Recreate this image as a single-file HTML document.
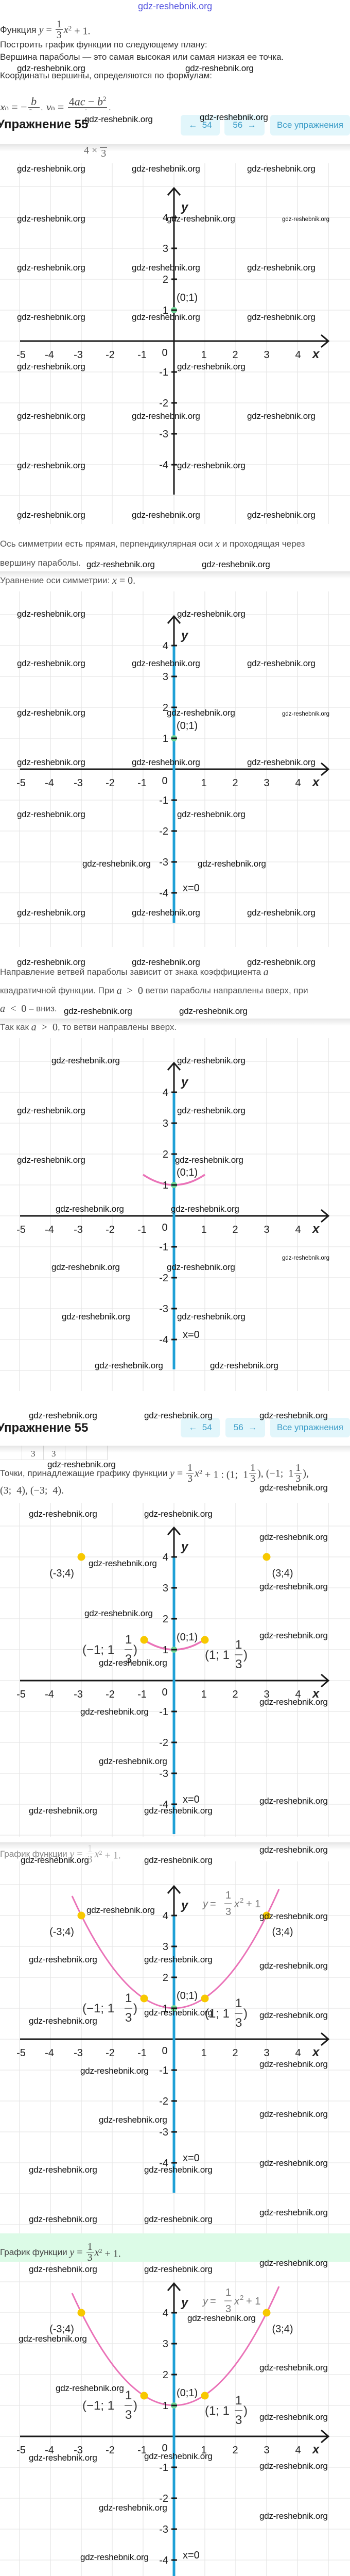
<!DOCTYPE html>
<html><head><meta charset="utf-8">
<style>
html,body{margin:0;padding:0}
body{width:680px;height:5054px;position:relative;overflow:hidden;background:#fff;font-family:"Liberation Sans",sans-serif}
.a{position:absolute;white-space:nowrap}
.w{position:absolute;white-space:nowrap;font:17px/20px "Liberation Sans",sans-serif;color:#111;z-index:20;letter-spacing:-0.2px}
.ws{position:absolute;white-space:nowrap;font:11.5px/14px "Liberation Sans",sans-serif;color:#111;z-index:20}
.t{position:absolute;left:0;white-space:nowrap;font-size:17px;line-height:22px;color:#555;display:flex;align-items:center;z-index:5}
.t1{color:#333}
.m{font-family:"Liberation Serif",serif;font-size:20px;color:#444}
.i{font-style:italic}
.fr{display:inline-flex;flex-direction:column;vertical-align:middle;text-align:center;line-height:1.0;margin:0 2px}
.fr>span:first-child{border-bottom:1px solid #444;padding:0 2px}
.g{position:absolute;left:0;z-index:1}
.hdr{position:absolute;left:0;width:680px;background:#fff;z-index:10}
.sh{position:absolute;left:0;width:680px;height:14px;background:linear-gradient(rgba(0,0,0,0.10),rgba(0,0,0,0));z-index:10}
.btn{position:absolute;background:#e2f6fb;border-radius:6px;color:#3a9cc7;font:17px "Liberation Sans",sans-serif;display:flex;align-items:center;justify-content:center;z-index:11}
.h{position:absolute;left:-6px;font:bold 24px "Liberation Sans",sans-serif;color:#1a1a1a;z-index:11}
svg text{font-family:"Liberation Sans",sans-serif}
</style></head><body>

<div class="a" style="left:268px;top:2px;font-size:18px;color:#5656e0;z-index:20">gdz-reshebnik.org</div>

<div class="t t1" style="top:37px;font-size:18px">Функция&nbsp;<span class="m i">y</span><span class="m">&nbsp;=&nbsp;</span><span class="fr m"><span>1</span><span>3</span></span><span class="m i">x</span><span class="m"><sup style="font-size:13px">2</sup> + 1.</span></div>
<div class="t t1" style="top:76px">Построить график функции по следующему плану:</div>
<div class="t t1" style="top:100px">Вершина параболы — это самая высокая или самая низкая ее точка.</div>
<div class="t t1" style="top:136px">Координаты вершины, определяются по формулам:</div>
<div class="t t1" style="top:185px"><span class="m i" style="font-size:22px">x</span><span class="m" style="font-size:14px;margin-top:10px">0</span><span class="m" style="font-size:22px">&nbsp;= −</span><span class="fr m" style="font-size:22px"><span class="i">b</span><span>2<i>a</i></span></span><span class="m" style="font-size:22px">,&nbsp;</span><span class="m i" style="font-size:22px">y</span><span class="m" style="font-size:14px;margin-top:10px">0</span><span class="m" style="font-size:22px">&nbsp;=&nbsp;</span><span class="fr m" style="font-size:22px"><span>4<i>ac</i> − <i>b</i><sup style="font-size:13px">2</sup></span><span>4<i>a</i></span></span><span class="m" style="font-size:22px">.</span></div>

<div class="hdr" style="top:214px;height:66px"></div>
<div class="sh" style="top:280px"></div>
<div class="h" style="top:228px">Упражнение 55</div>
<div class="btn" style="left:351px;top:223px;width:76px;height:40px">←&nbsp;&nbsp;54</div>
<div class="btn" style="left:436px;top:223px;width:78px;height:40px">56&nbsp;&nbsp;→</div>
<div class="btn" style="left:525px;top:223px;width:155px;height:40px">Все упражнения</div>
<div class="a m" style="left:163px;top:281px;z-index:5;font-size:20px;color:#666">4 × <span style="display:inline-block;border-top:1px solid #666;padding:0 2px;vertical-align:-6px">3</span></div>

<svg class="g" style="top:317px" width="680" height="700" viewBox="0 0 680 700">
<path d="M38 0V700M98 0V700M158 0V700M218 0V700M278 0V700M338 0V700M398 0V700M458 0V700M518 0V700M578 0V700M638 0V700M0 45H680M0 105H680M0 165H680M0 225H680M0 285H680M0 345H680M0 405H680M0 465H680M0 525H680M0 585H680M0 645H680" stroke="#e6e6e6" stroke-width="1.3"/>
<path d="M39 345H636M338 643V50" stroke="#1a1a1a" stroke-width="3"/>
<path d="M624 333L638 345L624 357M326 62L338 48L350 62" fill="none" stroke="#1a1a1a" stroke-width="3"/>
<path d="M333 105H344M333 165H344M333 225H344M333 285H344M333 405H344M333 465H344M333 525H344M333 585H344" stroke="#1a1a1a" stroke-width="3"/>
<circle cx="338" cy="285" r="6" fill="#6cd494"/><path d="M333 285H344" stroke="#1a1a1a" stroke-width="3"/>
<g font-size="20" fill="#222" text-anchor="end"><text x="327" y="112">4</text><text x="327" y="172">3</text><text x="327" y="232">2</text><text x="327" y="292">1</text><text x="327" y="412">-1</text><text x="327" y="472">-2</text><text x="327" y="532">-3</text><text x="327" y="592">-4</text></g>
<g font-size="20" fill="#222" text-anchor="middle"><text x="41" y="378">-5</text><text x="96" y="378">-4</text><text x="152" y="378">-3</text><text x="214" y="378">-2</text><text x="276" y="378">-1</text><text x="320" y="374">0</text><text x="396" y="378">1</text><text x="457" y="378">2</text><text x="518" y="378">3</text><text x="579" y="378">4</text></g>
<text x="607" y="378" font-size="24" font-weight="bold" font-style="italic" fill="#222">x</text>
<text x="352" y="93" font-size="24" font-weight="bold" font-style="italic" fill="#222">y</text>
<text x="343" y="267" font-size="20" fill="#222">(0;1)</text>
</svg>

<div class="t" style="top:1045px">Ось симметрии есть прямая, перпендикулярная оси&nbsp;<span class="m i">x</span>&nbsp;и проходящая через</div>
<div class="t" style="top:1082px">вершину параболы.</div>
<div class="sh" style="top:1109px"></div>
<div class="t" style="top:1116px">Уравнение оси симметрии:&nbsp;<span class="m i">x</span><span class="m">&nbsp;=&nbsp;0.</span></div>

<svg class="g" style="top:1148px" width="680" height="690" viewBox="0 0 680 690">
<path d="M38 0V690M98 0V690M158 0V690M218 0V690M278 0V690M338 0V690M398 0V690M458 0V690M518 0V690M578 0V690M638 0V690M0 45H680M0 105H680M0 165H680M0 225H680M0 285H680M0 345H680M0 405H680M0 465H680M0 525H680M0 585H680M0 645H680" stroke="#e6e6e6" stroke-width="1.3"/>
<path d="M39 345H636M338 643V50" stroke="#1a1a1a" stroke-width="3"/>
<path d="M624 333L638 345L624 357M326 62L338 48L350 62" fill="none" stroke="#1a1a1a" stroke-width="3"/>
<path d="M338 105V643" stroke="#1ea0d6" stroke-width="5"/>
<circle cx="338" cy="285" r="6" fill="#6cd494"/>
<path d="M333 105H344M333 165H344M333 225H344M333 285H344M333 405H344M333 465H344M333 525H344M333 585H344" stroke="#1a1a1a" stroke-width="3"/>
<g font-size="20" fill="#222" text-anchor="end"><text x="327" y="112">4</text><text x="327" y="172">3</text><text x="327" y="232">2</text><text x="327" y="292">1</text><text x="327" y="412">-1</text><text x="327" y="472">-2</text><text x="327" y="532">-3</text><text x="327" y="592">-4</text></g>
<g font-size="20" fill="#222" text-anchor="middle"><text x="41" y="378">-5</text><text x="96" y="378">-4</text><text x="152" y="378">-3</text><text x="214" y="378">-2</text><text x="276" y="378">-1</text><text x="320" y="374">0</text><text x="396" y="378">1</text><text x="457" y="378">2</text><text x="518" y="378">3</text><text x="579" y="378">4</text></g>
<text x="607" y="378" font-size="24" font-weight="bold" font-style="italic" fill="#222">x</text>
<text x="352" y="93" font-size="24" font-weight="bold" font-style="italic" fill="#222">y</text>
<text x="343" y="267" font-size="20" fill="#222">(0;1)</text>
<text x="355" y="582" font-size="20" fill="#222">x=0</text>
</svg>

<div class="t" style="top:1876px">Направление ветвей параболы зависит от знака коэффициента&nbsp;<span class="m i">a</span></div>
<div class="t" style="top:1912px">квадратичной функции. При&nbsp;<span class="m i">a</span><span class="m">&nbsp;&nbsp;&gt;&nbsp;&nbsp;0</span>&nbsp;ветви параболы направлены вверх, при</div>
<div class="t" style="top:1947px"><span class="m i">a</span><span class="m">&nbsp;&nbsp;&lt;&nbsp;&nbsp;0</span>&nbsp;– вниз.</div>
<div class="sh" style="top:1977px"></div>
<div class="t" style="top:1983px">Так как&nbsp;<span class="m i">a</span><span class="m">&nbsp;&nbsp;&gt;&nbsp;&nbsp;0</span>, то ветви направлены вверх.</div>

<svg class="g" style="top:2015px" width="680" height="685" viewBox="0 0 680 685">
<path d="M38 0V685M98 0V685M158 0V685M218 0V685M278 0V685M338 0V685M398 0V685M458 0V685M518 0V685M578 0V685M638 0V685M0 45H680M0 105H680M0 165H680M0 225H680M0 285H680M0 345H680M0 405H680M0 465H680M0 525H680M0 585H680M0 645H680" stroke="#e6e6e6" stroke-width="1.3"/>
<path d="M39 345H636M338 643V50" stroke="#1a1a1a" stroke-width="3"/>
<path d="M624 333L638 345L624 357M326 62L338 48L350 62" fill="none" stroke="#1a1a1a" stroke-width="3"/>
<path d="M338 105V643" stroke="#1ea0d6" stroke-width="5"/>
<path d="M278 265Q338 305 398 265" fill="none" stroke="#ea73b8" stroke-width="3.5"/>
<circle cx="338" cy="285" r="6" fill="#6cd494"/>
<path d="M333 105H344M333 165H344M333 225H344M333 285H344M333 405H344M333 465H344M333 525H344M333 585H344" stroke="#1a1a1a" stroke-width="3"/>
<g font-size="20" fill="#222" text-anchor="end"><text x="327" y="112">4</text><text x="327" y="172">3</text><text x="327" y="232">2</text><text x="327" y="292">1</text><text x="327" y="412">-1</text><text x="327" y="472">-2</text><text x="327" y="532">-3</text><text x="327" y="592">-4</text></g>
<g font-size="20" fill="#222" text-anchor="middle"><text x="41" y="378">-5</text><text x="96" y="378">-4</text><text x="152" y="378">-3</text><text x="214" y="378">-2</text><text x="276" y="378">-1</text><text x="320" y="374">0</text><text x="396" y="378">1</text><text x="457" y="378">2</text><text x="518" y="378">3</text><text x="579" y="378">4</text></g>
<text x="607" y="378" font-size="24" font-weight="bold" font-style="italic" fill="#222">x</text>
<text x="352" y="93" font-size="24" font-weight="bold" font-style="italic" fill="#222">y</text>
<text x="343" y="267" font-size="20" fill="#222">(0;1)</text>
<text x="355" y="582" font-size="20" fill="#222">x=0</text>
</svg>

<div class="hdr" style="top:2733px;height:73px"></div>
<div class="sh" style="top:2806px"></div>
<div class="h" style="top:2758px">Упражнение 55</div>
<div class="btn" style="left:351px;top:2752px;width:76px;height:38px">←&nbsp;&nbsp;54</div>
<div class="btn" style="left:438px;top:2752px;width:77px;height:38px">56&nbsp;&nbsp;→</div>
<div class="btn" style="left:525px;top:2752px;width:155px;height:38px">Все упражнения</div>
<div class="a" style="left:0;top:2806px;width:208px;height:27px;border-bottom:1px solid #ddd;border-right:1px solid #ddd;z-index:4"></div>
<div class="a" style="left:42px;top:2806px;width:41px;height:27px;border-left:1px solid #ddd;border-right:1px solid #ddd;z-index:4"></div>
<div class="a" style="left:126px;top:2806px;width:41px;height:27px;border-left:1px solid #ddd;border-right:1px solid #ddd;z-index:4"></div>
<div class="a m" style="left:60px;top:2812px;font-size:17px;z-index:4">3</div>
<div class="a m" style="left:100px;top:2812px;font-size:17px;z-index:4">3</div>

<div class="t" style="top:2839px;color:#444">Точки, принадлежащие графику функции&nbsp;<span class="m i">y</span><span class="m">&nbsp;=&nbsp;</span><span class="fr m"><span>1</span><span>3</span></span><span class="m i">x</span><span class="m"><sup style="font-size:12px">2</sup> + 1 : (1;&nbsp; 1</span><span class="fr m"><span>1</span><span>3</span></span><span class="m">), (−1;&nbsp; 1</span><span class="fr m"><span>1</span><span>3</span></span><span class="m">),</span></div>
<div class="t" style="top:2882px"><span class="m">(3;&nbsp; 4), (−3;&nbsp; 4).</span></div>

<svg class="g" style="top:2917px" width="680" height="648" viewBox="0 0 680 648">
<path d="M38 0V648M98 0V648M158 0V648M218 0V648M278 0V648M338 0V648M398 0V648M458 0V648M518 0V648M578 0V648M638 0V648M0 45H680M0 105H680M0 165H680M0 225H680M0 285H680M0 345H680M0 405H680M0 465H680M0 525H680M0 585H680M0 645H680" stroke="#e6e6e6" stroke-width="1.3"/>
<path d="M39 345H636M338 643V50" stroke="#1a1a1a" stroke-width="3"/>
<path d="M624 333L638 345L624 357M326 62L338 48L350 62" fill="none" stroke="#1a1a1a" stroke-width="3"/>
<path d="M338 105V643" stroke="#1ea0d6" stroke-width="5"/>
<path d="M278 265Q338 305 398 265" fill="none" stroke="#ea73b8" stroke-width="3.5"/>
<circle cx="338" cy="285" r="6" fill="#6cd494"/>
<g fill="#f7c800"><circle cx="158" cy="105" r="7.5"/><circle cx="518" cy="105" r="7.5"/><circle cx="280" cy="266" r="7.5"/><circle cx="398" cy="266" r="7.5"/></g>
<path d="M333 105H344M333 165H344M333 225H344M333 285H344M333 405H344M333 465H344M333 525H344M333 585H344" stroke="#1a1a1a" stroke-width="3"/>
<g font-size="20" fill="#222" text-anchor="end"><text x="327" y="112">4</text><text x="327" y="172">3</text><text x="327" y="232">2</text><text x="327" y="292">1</text><text x="327" y="412">-1</text><text x="327" y="472">-2</text><text x="327" y="532">-3</text><text x="327" y="592">-4</text></g>
<g font-size="20" fill="#222" text-anchor="middle"><text x="41" y="378">-5</text><text x="96" y="378">-4</text><text x="152" y="378">-3</text><text x="214" y="378">-2</text><text x="276" y="378">-1</text><text x="320" y="374">0</text><text x="396" y="378">1</text><text x="457" y="378">2</text><text x="518" y="378">3</text><text x="579" y="378">4</text></g>
<text x="607" y="378" font-size="24" font-weight="bold" font-style="italic" fill="#222">x</text>
<text x="352" y="93" font-size="24" font-weight="bold" font-style="italic" fill="#222">y</text>
<text x="343" y="267" font-size="20" fill="#222">(0;1)</text>
<text x="355" y="582" font-size="20" fill="#222">x=0</text>
<g font-size="20" fill="#222" text-anchor="middle"><text x="120" y="143">(-3;4)</text><text x="549" y="143">(3;4)</text></g>
<g font-family="Liberation Serif,serif" font-size="24" fill="#333"><text x="160" y="293">(−1; 1</text><text x="243" y="273">1</text><path d="M242 285H257" stroke="#333" stroke-width="1.2"/><text x="243" y="311">3</text><text x="259" y="293">)</text>
<text x="398" y="303">(1; 1</text><text x="457" y="283">1</text><path d="M456 295H471" stroke="#333" stroke-width="1.2"/><text x="457" y="321">3</text><text x="473" y="303">)</text></g>
</svg>

<div class="sh" style="top:3576px"></div>
<div class="t" style="top:3578px;color:#888">График функции&nbsp;<span class="m i" style="color:#999">y</span><span class="m" style="color:#999">&nbsp;=&nbsp;</span><span class="fr m" style="color:#999"><span style="border-color:#bbb;color:#ddd">1</span><span>3</span></span><span class="m i" style="color:#999">x</span><span class="m" style="color:#999"><sup style="font-size:12px">2</sup> + 1.</span></div>

<svg class="g" style="top:3613px" width="680" height="722" viewBox="0 0 680 722">
<path d="M38 0V722M98 0V722M158 0V722M218 0V722M278 0V722M338 0V722M398 0V722M458 0V722M518 0V722M578 0V722M638 0V722M0 45H680M0 105H680M0 165H680M0 225H680M0 285H680M0 345H680M0 405H680M0 465H680M0 525H680M0 585H680M0 645H680M0 705H680" stroke="#e6e6e6" stroke-width="1.3"/>
<path d="M39 345H636M338 643V50" stroke="#1a1a1a" stroke-width="3"/>
<path d="M624 333L638 345L624 357M326 62L338 48L350 62" fill="none" stroke="#1a1a1a" stroke-width="3"/>
<path d="M338 105V643" stroke="#1ea0d6" stroke-width="5"/>
<path d="M140 67Q341 509 542 54" fill="none" stroke="#ea73b8" stroke-width="3"/>
<circle cx="338" cy="285" r="6" fill="#6cd494"/>
<g fill="#f7c800"><circle cx="158" cy="105" r="7.5"/><circle cx="518" cy="105" r="7.5"/><circle cx="280" cy="266" r="7.5"/><circle cx="398" cy="266" r="7.5"/></g>
<path d="M333 105H344M333 165H344M333 225H344M333 285H344M333 405H344M333 465H344M333 525H344M333 585H344" stroke="#1a1a1a" stroke-width="3"/>
<g font-size="20" fill="#222" text-anchor="end"><text x="327" y="112">4</text><text x="327" y="172">3</text><text x="327" y="232">2</text><text x="327" y="292">1</text><text x="327" y="412">-1</text><text x="327" y="472">-2</text><text x="327" y="532">-3</text><text x="327" y="592">-4</text></g>
<g font-size="20" fill="#222" text-anchor="middle"><text x="41" y="378">-5</text><text x="96" y="378">-4</text><text x="152" y="378">-3</text><text x="214" y="378">-2</text><text x="276" y="378">-1</text><text x="320" y="374">0</text><text x="396" y="378">1</text><text x="457" y="378">2</text><text x="518" y="378">3</text><text x="579" y="378">4</text></g>
<text x="607" y="378" font-size="24" font-weight="bold" font-style="italic" fill="#222">x</text>
<text x="352" y="93" font-size="24" font-weight="bold" font-style="italic" fill="#222">y</text>
<text x="343" y="267" font-size="20" fill="#222">(0;1)</text>
<text x="355" y="582" font-size="20" fill="#222">x=0</text>
<g font-size="20" fill="#222" text-anchor="middle"><text x="120" y="143">(-3;4)</text><text x="549" y="143">(3;4)</text></g>
<g font-family="Liberation Serif,serif" font-size="24" fill="#333"><text x="160" y="293">(−1; 1</text><text x="243" y="273">1</text><path d="M242 285H257" stroke="#333" stroke-width="1.2"/><text x="243" y="311">3</text><text x="259" y="293">)</text>
<text x="398" y="303">(1; 1</text><text x="457" y="283">1</text><path d="M456 295H471" stroke="#333" stroke-width="1.2"/><text x="457" y="321">3</text><text x="473" y="303">)</text></g>
<g font-family="Liberation Serif,serif" font-size="20" fill="#777"><text x="394" y="89" font-style="italic">y</text><text x="408" y="89">=</text><text x="438" y="72">1</text><path d="M436 82H450" stroke="#777" stroke-width="1.2"/><text x="438" y="104">3</text><text x="455" y="89" font-style="italic">x</text><text x="466" y="80" font-size="13">2</text><text x="478" y="89">+ 1</text></g>
</svg>

<div class="a" style="left:0;top:4335px;width:680px;height:55px;background:#dcfbe7;z-index:6"></div>
<div class="t" style="top:4351px;z-index:7;color:#444">График функции&nbsp;<span class="m i">y</span><span class="m">&nbsp;=&nbsp;</span><span class="fr m"><span>1</span><span>3</span></span><span class="m i">x</span><span class="m"><sup style="font-size:12px">2</sup> + 1.</span></div>

<svg class="g" style="top:4384px" width="680" height="668" viewBox="0 0 680 668">
<path d="M38 0V668M98 0V668M158 0V668M218 0V668M278 0V668M338 0V668M398 0V668M458 0V668M518 0V668M578 0V668M638 0V668M0 45H680M0 105H680M0 165H680M0 225H680M0 285H680M0 345H680M0 405H680M0 465H680M0 525H680M0 585H680M0 645H680" stroke="#e6e6e6" stroke-width="1.3"/>
<path d="M39 345H636M338 643V50" stroke="#1a1a1a" stroke-width="3"/>
<path d="M624 333L638 345L624 357M326 62L338 48L350 62" fill="none" stroke="#1a1a1a" stroke-width="3"/>
<path d="M338 105V643" stroke="#1ea0d6" stroke-width="5"/>
<path d="M140 67Q341 509 542 54" fill="none" stroke="#ea73b8" stroke-width="3"/>
<circle cx="338" cy="285" r="6" fill="#6cd494"/>
<g fill="#f7c800"><circle cx="158" cy="105" r="7.5"/><circle cx="518" cy="105" r="7.5"/><circle cx="280" cy="266" r="7.5"/><circle cx="398" cy="266" r="7.5"/></g>
<path d="M333 105H344M333 165H344M333 225H344M333 285H344M333 405H344M333 465H344M333 525H344M333 585H344" stroke="#1a1a1a" stroke-width="3"/>
<g font-size="20" fill="#222" text-anchor="end"><text x="327" y="112">4</text><text x="327" y="172">3</text><text x="327" y="232">2</text><text x="327" y="292">1</text><text x="327" y="412">-1</text><text x="327" y="472">-2</text><text x="327" y="532">-3</text><text x="327" y="592">-4</text></g>
<g font-size="20" fill="#222" text-anchor="middle"><text x="41" y="378">-5</text><text x="96" y="378">-4</text><text x="152" y="378">-3</text><text x="214" y="378">-2</text><text x="276" y="378">-1</text><text x="320" y="374">0</text><text x="396" y="378">1</text><text x="457" y="378">2</text><text x="518" y="378">3</text><text x="579" y="378">4</text></g>
<text x="607" y="378" font-size="24" font-weight="bold" font-style="italic" fill="#222">x</text>
<text x="352" y="93" font-size="24" font-weight="bold" font-style="italic" fill="#222">y</text>
<text x="343" y="267" font-size="20" fill="#222">(0;1)</text>
<text x="355" y="582" font-size="20" fill="#222">x=0</text>
<g font-size="20" fill="#222" text-anchor="middle"><text x="120" y="143">(-3;4)</text><text x="549" y="143">(3;4)</text></g>
<g font-family="Liberation Serif,serif" font-size="24" fill="#333"><text x="160" y="293">(−1; 1</text><text x="243" y="273">1</text><path d="M242 285H257" stroke="#333" stroke-width="1.2"/><text x="243" y="311">3</text><text x="259" y="293">)</text>
<text x="398" y="303">(1; 1</text><text x="457" y="283">1</text><path d="M456 295H471" stroke="#333" stroke-width="1.2"/><text x="457" y="321">3</text><text x="473" y="303">)</text></g>
<g font-family="Liberation Serif,serif" font-size="20" fill="#777"><text x="394" y="89" font-style="italic">y</text><text x="408" y="89">=</text><text x="438" y="72">1</text><path d="M436 82H450" stroke="#777" stroke-width="1.2"/><text x="438" y="104">3</text><text x="455" y="89" font-style="italic">x</text><text x="466" y="80" font-size="13">2</text><text x="478" y="89">+ 1</text></g>
</svg>

<div class="w" style="left:33px;top:123px">gdz-reshebnik.org</div><div class="w" style="left:360px;top:123px">gdz-reshebnik.org</div>
<div class="w" style="left:164px;top:222px">gdz-reshebnik.org</div><div class="w" style="left:388px;top:218px">gdz-reshebnik.org</div>
<div class="w" style="left:33px;top:318px">gdz-reshebnik.org</div><div class="w" style="left:256px;top:318px">gdz-reshebnik.org</div><div class="w" style="left:480px;top:318px">gdz-reshebnik.org</div>
<div class="w" style="left:33px;top:415px">gdz-reshebnik.org</div><div class="w" style="left:324px;top:415px">gdz-reshebnik.org</div><div class="ws" style="left:548px;top:419px">gdz-reshebnik.org</div>
<div class="w" style="left:33px;top:510px">gdz-reshebnik.org</div><div class="w" style="left:256px;top:510px">gdz-reshebnik.org</div><div class="w" style="left:480px;top:510px">gdz-reshebnik.org</div>
<div class="w" style="left:33px;top:606px">gdz-reshebnik.org</div><div class="w" style="left:256px;top:606px">gdz-reshebnik.org</div><div class="w" style="left:480px;top:606px">gdz-reshebnik.org</div>
<div class="w" style="left:33px;top:702px">gdz-reshebnik.org</div><div class="w" style="left:344px;top:702px">gdz-reshebnik.org</div>
<div class="w" style="left:33px;top:798px">gdz-reshebnik.org</div><div class="w" style="left:256px;top:798px">gdz-reshebnik.org</div><div class="w" style="left:480px;top:798px">gdz-reshebnik.org</div>
<div class="w" style="left:33px;top:894px">gdz-reshebnik.org</div><div class="w" style="left:344px;top:894px">gdz-reshebnik.org</div>
<div class="w" style="left:33px;top:990px">gdz-reshebnik.org</div><div class="w" style="left:256px;top:990px">gdz-reshebnik.org</div><div class="w" style="left:480px;top:990px">gdz-reshebnik.org</div>
<div class="w" style="left:168px;top:1086px">gdz-reshebnik.org</div><div class="w" style="left:392px;top:1086px">gdz-reshebnik.org</div>
<div class="w" style="left:33px;top:1182px">gdz-reshebnik.org</div><div class="w" style="left:344px;top:1182px">gdz-reshebnik.org</div>
<div class="w" style="left:33px;top:1278px">gdz-reshebnik.org</div><div class="w" style="left:256px;top:1278px">gdz-reshebnik.org</div><div class="w" style="left:480px;top:1278px">gdz-reshebnik.org</div>
<div class="w" style="left:33px;top:1374px">gdz-reshebnik.org</div><div class="w" style="left:324px;top:1374px">gdz-reshebnik.org</div><div class="ws" style="left:548px;top:1379px">gdz-reshebnik.org</div>
<div class="w" style="left:33px;top:1470px">gdz-reshebnik.org</div><div class="w" style="left:256px;top:1470px">gdz-reshebnik.org</div><div class="w" style="left:480px;top:1470px">gdz-reshebnik.org</div>
<div class="w" style="left:33px;top:1571px">gdz-reshebnik.org</div><div class="w" style="left:344px;top:1571px">gdz-reshebnik.org</div>
<div class="w" style="left:160px;top:1667px">gdz-reshebnik.org</div><div class="w" style="left:384px;top:1667px">gdz-reshebnik.org</div>
<div class="w" style="left:33px;top:1762px">gdz-reshebnik.org</div><div class="w" style="left:256px;top:1762px">gdz-reshebnik.org</div><div class="w" style="left:480px;top:1762px">gdz-reshebnik.org</div>
<div class="w" style="left:33px;top:1858px">gdz-reshebnik.org</div><div class="w" style="left:256px;top:1858px">gdz-reshebnik.org</div><div class="w" style="left:480px;top:1858px">gdz-reshebnik.org</div>
<div class="w" style="left:124px;top:1953px">gdz-reshebnik.org</div><div class="w" style="left:348px;top:1953px">gdz-reshebnik.org</div>
<div class="w" style="left:100px;top:2049px">gdz-reshebnik.org</div><div class="w" style="left:344px;top:2049px">gdz-reshebnik.org</div>
<div class="w" style="left:33px;top:2146px">gdz-reshebnik.org</div><div class="w" style="left:344px;top:2146px">gdz-reshebnik.org</div>
<div class="w" style="left:33px;top:2242px">gdz-reshebnik.org</div><div class="w" style="left:340px;top:2242px">gdz-reshebnik.org</div>
<div class="w" style="left:108px;top:2337px">gdz-reshebnik.org</div><div class="w" style="left:332px;top:2337px">gdz-reshebnik.org</div>
<div class="ws" style="left:548px;top:2435px">gdz-reshebnik.org</div>
<div class="w" style="left:100px;top:2450px">gdz-reshebnik.org</div><div class="w" style="left:324px;top:2450px">gdz-reshebnik.org</div>
<div class="w" style="left:120px;top:2546px">gdz-reshebnik.org</div><div class="w" style="left:344px;top:2546px">gdz-reshebnik.org</div>
<div class="w" style="left:184px;top:2641px">gdz-reshebnik.org</div><div class="w" style="left:408px;top:2641px">gdz-reshebnik.org</div>
<div class="w" style="left:56px;top:2738px">gdz-reshebnik.org</div><div class="w" style="left:280px;top:2738px">gdz-reshebnik.org</div><div class="w" style="left:504px;top:2738px">gdz-reshebnik.org</div>
<div class="w" style="left:92px;top:2833px">gdz-reshebnik.org</div><div class="w" style="left:504px;top:2878px">gdz-reshebnik.org</div>
<div class="w" style="left:56px;top:2929px">gdz-reshebnik.org</div><div class="w" style="left:280px;top:2929px">gdz-reshebnik.org</div>
<div class="w" style="left:504px;top:2974px">gdz-reshebnik.org</div>
<div class="w" style="left:172px;top:3025px">gdz-reshebnik.org</div>
<div class="w" style="left:504px;top:3070px">gdz-reshebnik.org</div>
<div class="w" style="left:164px;top:3122px">gdz-reshebnik.org</div>
<div class="w" style="left:504px;top:3165px">gdz-reshebnik.org</div>
<div class="w" style="left:192px;top:3218px">gdz-reshebnik.org</div>
<div class="w" style="left:504px;top:3294px">gdz-reshebnik.org</div>
<div class="w" style="left:156px;top:3313px">gdz-reshebnik.org</div>
<div class="w" style="left:192px;top:3409px">gdz-reshebnik.org</div>
<div class="w" style="left:504px;top:3486px">gdz-reshebnik.org</div>
<div class="w" style="left:56px;top:3505px">gdz-reshebnik.org</div><div class="w" style="left:280px;top:3505px">gdz-reshebnik.org</div>
<div class="w" style="left:504px;top:3581px">gdz-reshebnik.org</div>
<div class="w" style="left:40px;top:3601px">gdz-reshebnik.org</div><div class="w" style="left:280px;top:3601px">gdz-reshebnik.org</div>
<div class="w" style="left:168px;top:3698px">gdz-reshebnik.org</div><div class="w" style="left:504px;top:3710px">gdz-reshebnik.org</div>
<div class="w" style="left:56px;top:3794px">gdz-reshebnik.org</div><div class="w" style="left:280px;top:3794px">gdz-reshebnik.org</div><div class="w" style="left:504px;top:3806px">gdz-reshebnik.org</div>
<div class="w" style="left:280px;top:3897px">gdz-reshebnik.org</div><div class="w" style="left:504px;top:3902px">gdz-reshebnik.org</div><div class="w" style="left:56px;top:3913px">gdz-reshebnik.org</div>
<div class="w" style="left:504px;top:3997px">gdz-reshebnik.org</div><div class="w" style="left:156px;top:4010px">gdz-reshebnik.org</div>
<div class="w" style="left:504px;top:4094px">gdz-reshebnik.org</div><div class="w" style="left:192px;top:4105px">gdz-reshebnik.org</div>
<div class="w" style="left:504px;top:4189px">gdz-reshebnik.org</div><div class="w" style="left:56px;top:4202px">gdz-reshebnik.org</div><div class="w" style="left:280px;top:4202px">gdz-reshebnik.org</div>
<div class="w" style="left:504px;top:4285px">gdz-reshebnik.org</div><div class="w" style="left:56px;top:4298px">gdz-reshebnik.org</div><div class="w" style="left:280px;top:4298px">gdz-reshebnik.org</div>
<div class="w" style="left:504px;top:4383px">gdz-reshebnik.org</div><div class="w" style="left:56px;top:4395px">gdz-reshebnik.org</div><div class="w" style="left:280px;top:4395px">gdz-reshebnik.org</div>
<div class="w" style="left:364px;top:4490px">gdz-reshebnik.org</div>
<div class="w" style="left:36px;top:4530px">gdz-reshebnik.org</div>
<div class="w" style="left:504px;top:4586px">gdz-reshebnik.org</div>
<div class="w" style="left:108px;top:4626px">gdz-reshebnik.org</div>
<div class="w" style="left:504px;top:4682px">gdz-reshebnik.org</div>
<div class="w" style="left:56px;top:4761px">gdz-reshebnik.org</div><div class="w" style="left:280px;top:4758px">gdz-reshebnik.org</div><div class="w" style="left:504px;top:4777px">gdz-reshebnik.org</div>
<div class="w" style="left:192px;top:4858px">gdz-reshebnik.org</div><div class="w" style="left:504px;top:4874px">gdz-reshebnik.org</div>
<div class="w" style="left:156px;top:4954px">gdz-reshebnik.org</div>
</body></html>
